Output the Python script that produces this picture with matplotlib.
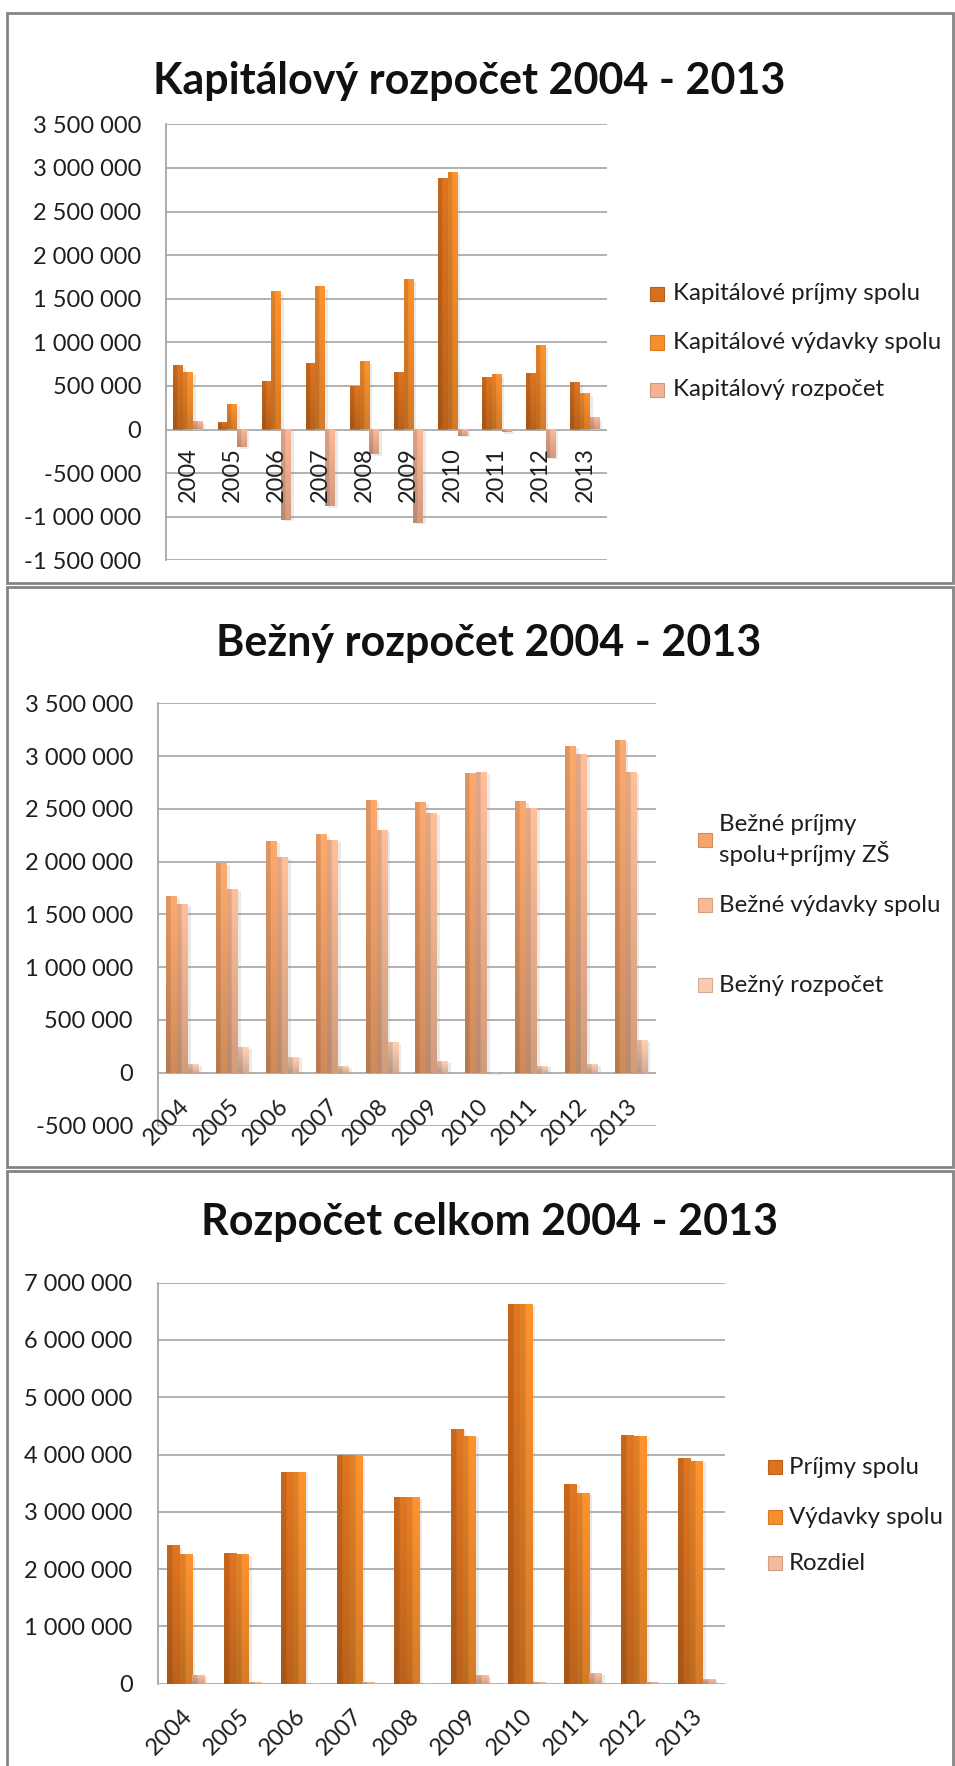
import numpy as np
import matplotlib
matplotlib.use("Agg")
import matplotlib.pyplot as plt
from matplotlib.patches import Rectangle
from matplotlib import transforms
import matplotlib.patheffects as pe
from matplotlib.colors import to_rgb
from matplotlib.ticker import FuncFormatter

plt.rcParams['font.family'] = ['Lato', 'DejaVu Sans']

# ---------------- data ----------------
years = ['2004', '2005', '2006', '2007', '2008', '2009', '2010', '2011', '2012', '2013']

kap_names = ['Kapitálové príjmy spolu', 'Kapitálové výdavky spolu', 'Kapitálový rozpočet']
kap_prijmy = [727000, 77000, 543000, 754000, 493000, 647000, 2873000, 589000, 631000, 532000]
kap_vydavky = [643000, 283000, 1576000, 1634000, 773000, 1714000, 2942000, 620000, 953000, 402000]
kap_rozpocet = [84000, -206000, -1033000, -880000, -280000, -1067000, -69000, -31000, -322000, 130000]

bez_names = ['Bežné príjmy\nspolu+príjmy ZŠ', 'Bežné výdavky spolu', 'Bežný rozpočet']
bez_prijmy = [1674000, 1987000, 2195000, 2262000, 2584000, 2565000, 2840000, 2571000, 3092000, 3149000]
bez_vydavky = [1598000, 1740000, 2044000, 2205000, 2299000, 2460000, 2849000, 2505000, 3013000, 2843000]
bez_rozpocet = [76000, 240000, 151000, 57000, 285000, 105000, -9000, 66000, 79000, 306000]

cel_names = ['Príjmy spolu', 'Výdavky spolu', 'Rozdiel']
cel_prijmy = [2415000, 2276000, 3700000, 3985000, 3250000, 4450000, 6630000, 3490000, 4340000, 3940000]
cel_vydavky = [2258000, 2258000, 3700000, 3985000, 3250000, 4330000, 6630000, 3320000, 4320000, 3890000]
cel_rozdiel = [145000, 30000, 4000, 30000, 4000, 140000, 30000, 175000, 25000, 70000]

titles = ['Kapitálový rozpočet 2004 - 2013', 'Bežný rozpočet 2004 - 2013', 'Rozpočet celkom 2004 - 2013']

# ---------------- styles ----------------
kap_colors = ['#D8711F', '#F88F2D', '#F5B393']
bez_colors = ['#F7A56B', '#F9BA95', '#F9CBB0']
cel_colors = ['#DB7220', '#F88F2D', '#F7B99C']

W, H = 955, 1766
fig = plt.figure(figsize=(W / 100, H / 100), dpi=100)


def px_rect(l, r, t, b):
    return [l / W, 1 - b / H, (r - l) / W, (b - t) / H]


def fx(x):
    return x / W


def fy(y):
    return 1 - y / H


# panel frames
for (t, b) in [(13, 583), (587, 1167), (1171, 1790)]:
    fig.add_artist(Rectangle((fx(7), fy(b)), (953 - 7) / W, (b - t) / H,
                             transform=fig.transFigure, fill=False,
                             ec='#858585', lw=2.0, clip_on=False))


def fmt(v, pos):
    s = f"{int(round(abs(v))):,}".replace(",", " ")
    return ("-" if v < 0 else "") + s


shadow = [pe.SimplePatchShadow(offset=(2.0, -1.2), shadow_rgbFace=(0.6, 0.6, 0.6), alpha=0.2), pe.Normal()]


def shade(ax, bars, color, vbottom, left_f=0.88):
    base = np.array(to_rgb(color))
    ny, nx = 80, 40
    hf = np.where(np.arange(nx) < 0.42 * nx, left_f, 1.0)
    vf = np.linspace(1.03, vbottom, ny)
    fac = vf[:, None] * hf[None, :]
    img = np.clip(base[None, None, :] * fac[:, :, None], 0, 1)
    for p in bars.patches:
        x0, w = p.get_x(), p.get_width()
        y, h = p.get_y(), p.get_height()
        if h == 0:
            continue
        y0, y1 = min(y, y + h), max(y, y + h)
        ax.imshow(img, extent=(x0, x0 + w, y0, y1), origin='upper',
                  aspect='auto', zorder=3, interpolation='bilinear')


def make_chart(rect, series, colors, ylim, step, vbottom, label_rot, label_dy):
    ax = fig.add_axes(rect)
    x = np.arange(len(years))
    bw = 0.22
    for k, (vals, c) in enumerate(zip(series, colors)):
        bars = ax.bar(x + (k - 1) * bw, vals, width=bw, color=c, zorder=2,
                      path_effects=shadow, linewidth=0)
        shade(ax, bars, c, vbottom)
    ax.set_xlim(-0.5, len(years) - 0.5)
    ax.set_ylim(*ylim)
    ax.set_yticks(np.arange(ylim[0], ylim[1] + 1, step))
    ax.yaxis.set_major_formatter(FuncFormatter(fmt))
    ax.grid(axis='y', color='#9c9c9c', lw=1.1, zorder=0)
    ax.set_axisbelow(True)
    for s in ['top', 'right', 'bottom']:
        ax.spines[s].set_visible(False)
    ax.spines['left'].set_color('#a0a0a0')
    ax.spines['left'].set_linewidth(1.2)
    ax.set_xticks([])
    ax.tick_params(axis='y', length=0, pad=18, labelsize=17, labelcolor='#1e1e1e')
    for i, yr in enumerate(years):
        tr = transforms.offset_copy(ax.transData, fig=fig, x=0 if label_rot == 90 else 3,
                                    y=label_dy, units='dots')
        if label_rot == 90:
            ax.text(i, 0, yr, rotation=90, ha='center', va='top', transform=tr,
                    fontsize=17, color='#1e1e1e', zorder=6, clip_on=False)
        else:
            ax.text(i, 0, yr, rotation=45, rotation_mode='anchor', ha='right', va='center',
                    transform=tr, fontsize=17, color='#1e1e1e', zorder=6, clip_on=False)
    return ax


def legend(entries, colors, mx, tx, ys, size=14):
    for name, c, y in zip(entries, colors, ys):
        fig.add_artist(Rectangle((fx(mx), fy(y + size / 2)), size / W, size / H,
                                 transform=fig.transFigure, fc=c,
                                 ec=tuple(np.array(to_rgb(c)) * 0.85), lw=0.8))
        fig.text(fx(tx), fy(y), name, ha='left', va='center', fontsize=17.3,
                 color='#1e1e1e', linespacing=1.3)


# ---- chart 1 ----
make_chart(px_rect(166, 607, 124.3, 560.3), [kap_prijmy, kap_vydavky, kap_rozpocet], kap_colors,
           (-1500000, 3500000), 500000, 0.86, 90, -18)
fig.text(fx(469), fy(81), titles[0], ha='center', va='center', fontsize=31,
         fontweight='bold', color='#111111')
legend(kap_names, kap_colors, 650, 673, [294, 342.5, 390])

# ---- chart 2 ----
make_chart(px_rect(158, 656, 703.3, 1125.5), [bez_prijmy, bez_vydavky, bez_rozpocet], bez_colors,
           (-500000, 3500000), 500000, 0.84, 45, -30)
fig.text(fx(489), fy(643), titles[1], ha='center', va='center', fontsize=31,
         fontweight='bold', color='#111111')
legend(bez_names, bez_colors, 698, 719, [840, 905, 985])

# ---- chart 3 ----
make_chart(px_rect(157.5, 725, 1282.7, 1683.6), [cel_prijmy, cel_vydavky, cel_rozdiel], cel_colors,
           (0, 7000000), 1000000, 0.86, 45, -29)
fig.text(fx(489), fy(1222), titles[2], ha='center', va='center', fontsize=31,
         fontweight='bold', color='#111111')
legend(cel_names, cel_colors, 768, 789, [1467, 1517, 1563])

fig.savefig('out.png', dpi=100)
